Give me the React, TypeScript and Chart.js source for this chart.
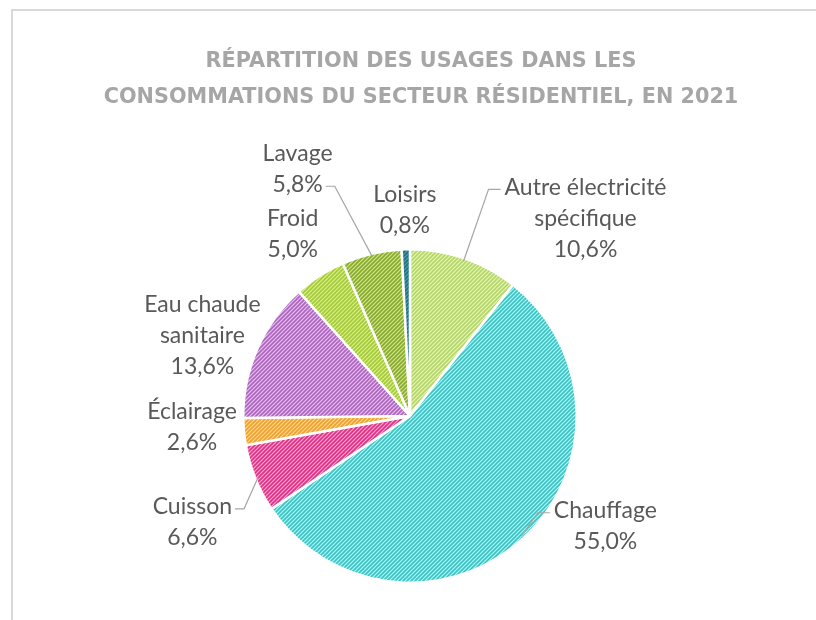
import React, { useEffect, useRef } from "react";
import { Chart, registerables } from "chart.js";

Chart.register(...registerables);

const TITLE_LINES = [
  "RÉPARTITION DES USAGES DANS LES",
  "CONSOMMATIONS DU SECTEUR RÉSIDENTIEL, EN 2021",
];

const CATEGORIES = [
  "Autre électricité spécifique",
  "Chauffage",
  "Cuisson",
  "Éclairage",
  "Eau chaude sanitaire",
  "Froid",
  "Lavage",
  "Loisirs",
];

const VALUES = [10.6, 55.0, 6.6, 2.6, 13.6, 5.0, 5.8, 0.8];

const LABEL_LINES = [
  ["Autre électricité", "spécifique"],
  ["Chauffage"],
  ["Cuisson"],
  ["Éclairage"],
  ["Eau chaude", "sanitaire"],
  ["Froid"],
  ["Lavage"],
  ["Loisirs"],
];

// pattern colours: [background, stripes]
const SLICE_COLORS = [
  ["#e6f3bf", "#b3d666"],
  ["#bdefef", "#37c4c6"],
  ["#f7a9cc", "#df2f86"],
  ["#fbd99c", "#f09f2a"],
  ["#e6bfee", "#ad66bd"],
  ["#dcef9a", "#a3c933"],
  ["#d2e48f", "#86aa2e"],
  ["#4f9dab", "#1f7083"],
];

// label block centre offset from the arc's outer mid-point (layout only)
const LABEL_OFFSETS = [
  [121, -40],
  [82, -12],
  [-63, 44],
  [-52, -5],
  [-55, -13],
  [-27, -42],
  [-74, -85],
  [-1, -39],
];

// leader: [side of label block, line index] or null
const LEADERS: (null | [string, number])[] = [
  ["left", 0],
  ["left", 0],
  ["right", 0],
  null,
  null,
  null,
  ["right", 1],
  null,
];

const LABEL_FONT = "Lato, 'Noto Sans', sans-serif";
const LABEL_SIZE = 23;
const LINE_H = 31;

function makePattern(bg: string, fg: string): CanvasPattern | string {
  const s = 4;
  const c = document.createElement("canvas");
  c.width = s;
  c.height = s;
  const g = c.getContext("2d");
  if (!g) return fg;
  g.fillStyle = bg;
  g.fillRect(0, 0, s, s);
  g.strokeStyle = fg;
  g.lineWidth = 1.6;
  g.beginPath();
  g.moveTo(-1, s + 1);
  g.lineTo(s + 1, -1);
  g.moveTo(-1, 1);
  g.lineTo(1, -1);
  g.moveTo(s - 1, s + 1);
  g.lineTo(s + 1, s - 1);
  g.stroke();
  const p = g.createPattern(c, "repeat");
  return p || fg;
}

const fmt = (v: number) => v.toFixed(1).replace(".", ",") + "%";

const decorPlugin = {
  id: "decor",
  beforeDraw(chart: any) {
    const ctx = chart.ctx;
    ctx.save();
    ctx.fillStyle = "#ffffff";
    ctx.fillRect(0, 0, chart.width, chart.height);
    ctx.strokeStyle = "#d9d9d9";
    ctx.lineWidth = 2;
    ctx.beginPath();
    ctx.moveTo(12, chart.height);
    ctx.lineTo(12, 10);
    ctx.lineTo(chart.width, 10);
    ctx.stroke();
    ctx.restore();
  },
  afterDraw(chart: any) {
    const ctx = chart.ctx;
    ctx.save();
    // title
    const titleFont = (sz: number) => `bold ${sz}px 'DejaVu Sans', sans-serif`;
    ctx.font = titleFont(20);
    const w = ctx.measureText(TITLE_LINES[1]).width;
    const sz = (20 * 635) / w;
    ctx.font = titleFont(sz);
    ctx.fillStyle = "#a6a6a6";
    ctx.textAlign = "center";
    ctx.textBaseline = "middle";
    ctx.fillText(TITLE_LINES[0], 421, 62);
    ctx.fillText(TITLE_LINES[1], 421, 98);

    // labels
    const meta = chart.getDatasetMeta(0);
    ctx.font = `${LABEL_SIZE}px ${LABEL_FONT}`;
    ctx.fillStyle = "#595959";
    meta.data.forEach((arc: any, i: number) => {
      const { x, y, startAngle, endAngle, outerRadius } = arc.getProps(
        ["x", "y", "startAngle", "endAngle", "outerRadius"],
        true
      );
      const mid = (startAngle + endAngle) / 2;
      const px = x + Math.cos(mid) * outerRadius;
      const py = y + Math.sin(mid) * outerRadius;
      const cx = px + LABEL_OFFSETS[i][0];
      const cy = py + LABEL_OFFSETS[i][1];
      const lines = [...LABEL_LINES[i], fmt(VALUES[i])];
      const top = cy - ((lines.length - 1) * LINE_H) / 2;
      lines.forEach((t, k) => {
        ctx.fillText(t, cx, top + k * LINE_H);
      });
      const ld = LEADERS[i];
      if (ld) {
        const [side, li] = ld;
        const tw = ctx.measureText(lines[li]).width;
        const ly = top + li * LINE_H + 2;
        const lx = side === "left" ? cx - tw / 2 - 4 : cx + tw / 2 + 3;
        const stub = side === "left" ? -12 : 9;
        const ex = x + Math.cos(mid) * (outerRadius - 3);
        const ey = y + Math.sin(mid) * (outerRadius - 3);
        ctx.save();
        ctx.strokeStyle = "#a6a6a6";
        ctx.lineWidth = 1.2;
        ctx.beginPath();
        ctx.moveTo(lx, ly);
        ctx.lineTo(lx + stub, ly);
        ctx.lineTo(ex, ey);
        ctx.stroke();
        ctx.restore();
      }
    });
    ctx.restore();
  },
};

export default function App() {
  const ref = useRef<HTMLCanvasElement | null>(null);
  useEffect(() => {
    document.body.style.margin = "0";
    if (!ref.current) return;
    const bgs = SLICE_COLORS.map(([b, f]) => makePattern(b, f));
    const chart = new Chart(ref.current, {
      type: "pie",
      data: {
        labels: CATEGORIES,
        datasets: [
          {
            data: VALUES,
            backgroundColor: bgs as any,
            borderColor: "#ffffff",
            borderWidth: 2.5,
          },
        ],
      },
      options: {
        animation: false,
        responsive: false,
        maintainAspectRatio: false,
        layout: { padding: { top: 248, bottom: 36, left: 98, right: 94 } },
        plugins: {
          legend: { display: false },
          title: { display: false },
          tooltip: { enabled: false },
        },
      },
      plugins: [decorPlugin],
    });
    return () => chart.destroy();
  }, []);
  return (
    <div style={{ width: 816, height: 620 }}>
      <canvas ref={ref} width={816} height={620} style={{ display: "block" }} />
    </div>
  );
}
